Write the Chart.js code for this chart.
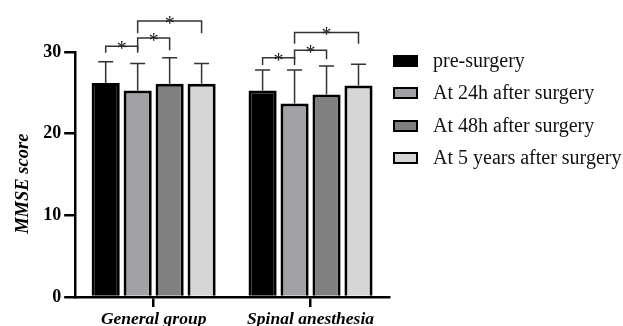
<!DOCTYPE html>
<html>
<head>
<meta charset="utf-8">
<script src="https://cdn.jsdelivr.net/npm/chart.js@4.4.0/dist/chart.umd.min.js"></script>
<style>
  html, body { margin: 0; padding: 0; background: #fff; overflow: hidden; }
  #wrap { position: relative; width: 623px; height: 332px; }
  #legend { position: absolute; left: 393px; top: 0; font-family: "Liberation Serif", serif; font-size: 20px; color: #111; }
  .item { position: absolute; left: 0; height: 20px; white-space: nowrap; }
  .box { position: absolute; left: 0; top: 4px; width: 21px; height: 8px; border: 2px solid #000; }
  .txt { position: absolute; left: 40px; top: -1px; line-height: 20px; }
</style>
</head>
<body>
<div id="wrap">
  <canvas id="chart"></canvas>
  <div id="legend"></div>
</div>
<script>
// data
const groups = ['General group', 'Spinal anesthesia'];
const seriesNames = ['pre-surgery', 'At 24h after surgery', 'At 48h after surgery', 'At 5 years after surgery'];
const preMean = [26.2, 25.3];
const h24Mean = [25.3, 23.7];
const h48Mean = [26.1, 24.8];
const y5Mean = [26.1, 25.9];
const preSD = [2.6, 2.5];
const h24SD = [3.3, 4.1];
const h48SD = [3.2, 3.5];
const y5SD = [2.5, 2.6];
const yTicks = [0, 10, 20, 30];

// significance brackets: group index, bar from, bar to, bracket level, leg end
const sigGroup = [0, 0, 0, 1, 1, 1];
const sigFrom = [0, 1, 1, 0, 1, 1];
const sigTo = [1, 2, 3, 1, 2, 3];
const sigLevel = [30.7, 31.7, 33.8, 29.3, 30.2, 32.4];
const sigLeg = [29.9, 30.2, 32.3, 28.4, 29.1, 31.0];

const fills = ['#000000', '#a2a2a6', '#808080', '#d6d6d6'];
const means = [preMean, h24Mean, h48Mean, y5Mean];
const sds = [preSD, h24SD, h48SD, y5SD];

// html legend
const legendEl = document.getElementById('legend');
const rowY = [51, 83, 116, 148];
seriesNames.forEach((name, i) => {
  const it = document.createElement('div');
  it.className = 'item';
  it.style.top = rowY[i] + 'px';
  it.innerHTML = '<div class="box" style="background:' + fills[i] + '"></div><div class="txt">' + name + '</div>';
  legendEl.appendChild(it);
});

const errorBars = {
  id: 'errorBars',
  afterDatasetsDraw(chart) {
    const ctx = chart.ctx;
    const y = chart.scales.y;
    ctx.save();
    ctx.strokeStyle = '#333';
    ctx.lineWidth = 1.5;
    chart.data.datasets.forEach((ds, d) => {
      const meta = chart.getDatasetMeta(d);
      meta.data.forEach((bar, i) => {
        const top = y.getPixelForValue(means[d][i] + sds[d][i]);
        const base = y.getPixelForValue(means[d][i]);
        ctx.beginPath();
        ctx.moveTo(bar.x, base);
        ctx.lineTo(bar.x, top);
        ctx.moveTo(bar.x - 7.5, top);
        ctx.lineTo(bar.x + 7.5, top);
        ctx.stroke();
      });
    });
    ctx.restore();
  }
};

const sigMarks = {
  id: 'sigMarks',
  afterDraw(chart) {
    const ctx = chart.ctx;
    const y = chart.scales.y;
    ctx.save();
    ctx.strokeStyle = '#333';
    ctx.fillStyle = '#222';
    ctx.lineWidth = 1.5;
    ctx.font = '20px "Liberation Serif"';
    ctx.textAlign = 'center';
    ctx.textBaseline = 'alphabetic';
    sigGroup.forEach((g, k) => {
      const x1 = chart.getDatasetMeta(sigFrom[k]).data[g].x;
      const x2 = chart.getDatasetMeta(sigTo[k]).data[g].x;
      const ly = y.getPixelForValue(sigLevel[k]);
      const lb = y.getPixelForValue(sigLeg[k]);
      ctx.beginPath();
      ctx.moveTo(x1, lb);
      ctx.lineTo(x1, ly);
      ctx.lineTo(x2, ly);
      ctx.lineTo(x2, lb);
      ctx.stroke();
      ctx.fillText('*', (x1 + x2) / 2, ly + 9);
    });
    ctx.restore();
  }
};

new Chart(document.getElementById('chart'), {
  type: 'bar',
  data: {
    labels: groups,
    datasets: seriesNames.map((name, i) => ({
      label: name,
      data: means[i],
      backgroundColor: fills[i],
      borderColor: '#000',
      borderWidth: 3,
      categoryPercentage: 0.815,
      barPercentage: 0.88
    }))
  },
  options: {
    responsive: true,
    maintainAspectRatio: false,
    animation: false,
    events: [],
    layout: { padding: { top: 52, right: 234, bottom: 0, left: 8 } },
    plugins: { legend: { display: false }, tooltip: { enabled: false } },
    scales: {
      x: {
        border: { color: '#000', width: 2.5 },
        grid: { offset: false, drawOnChartArea: false, tickLength: 10, color: '#000', lineWidth: 2.5 },
        ticks: { color: '#000', padding: 2, font: { family: 'Liberation Serif', size: 17.5, weight: 'bold', style: 'italic' } }
      },
      y: {
        min: 0,
        max: 30,
        afterBuildTicks: (axis) => { axis.ticks = yTicks.map(v => ({ value: v })); },
        border: { color: '#000', width: 2.5 },
        grid: { drawOnChartArea: false, tickLength: 11, color: '#000', lineWidth: 2.5 },
        ticks: { color: '#000', padding: 3, font: { family: 'Liberation Serif', size: 18, weight: 'bold' } },
        title: {
          display: true,
          text: 'MMSE score    ',
          color: '#000',
          padding: { top: 4, bottom: 6 },
          font: { family: 'Liberation Serif', size: 18.5, weight: 'bold', style: 'italic' }
        }
      }
    }
  },
  plugins: [errorBars, sigMarks]
});
</script>
</body>
</html>
